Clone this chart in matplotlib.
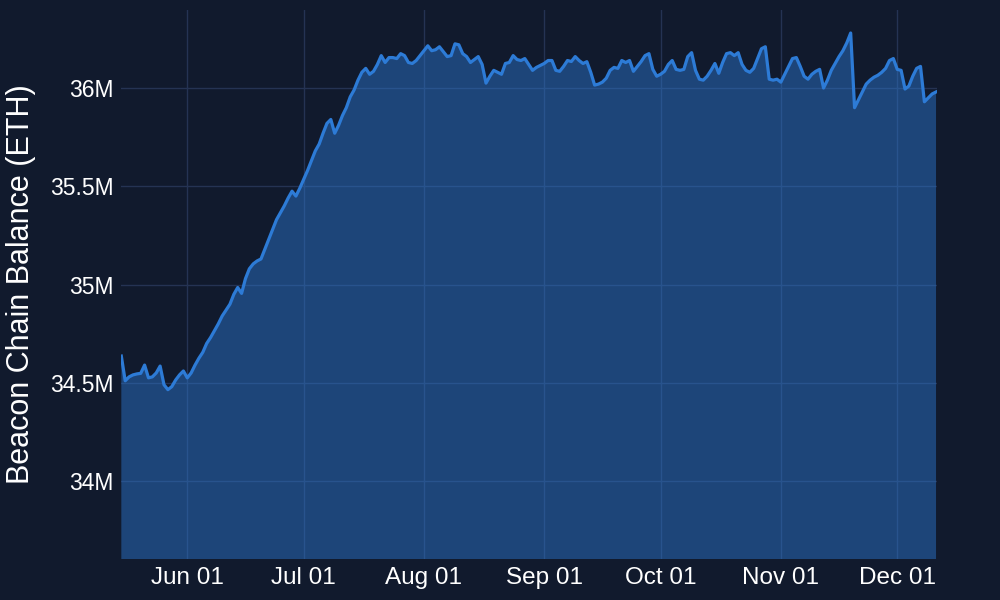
import matplotlib
matplotlib.use("Agg")
import matplotlib.pyplot as plt
import matplotlib.dates as mdates
from matplotlib.ticker import FuncFormatter
import pandas as pd
import numpy as np

start_date = "2025-05-15"
# Beacon chain balance in millions of ETH, one value per day
balance_m = [
    34.636, 34.51, 34.53, 34.54, 34.545, 34.548, 34.59, 34.525, 34.53, 34.55,
    34.585, 34.49, 34.465, 34.48, 34.514, 34.54, 34.56, 34.525, 34.55, 34.59,
    34.625, 34.655, 34.70, 34.73, 34.765, 34.80, 34.84, 34.87, 34.90, 34.95,
    34.985, 34.955, 35.03, 35.08, 35.105, 35.12, 35.13, 35.18, 35.23, 35.28,
    35.33, 35.365, 35.40, 35.44, 35.475, 35.45, 35.49, 35.535, 35.58, 35.63,
    35.68, 35.715, 35.77, 35.82, 35.84, 35.77, 35.81, 35.86, 35.90, 35.955,
    35.99, 36.04, 36.08, 36.10, 36.07, 36.085, 36.12, 36.165, 36.13, 36.155,
    36.155, 36.15, 36.175, 36.165, 36.13, 36.125, 36.14, 36.165, 36.19, 36.215,
    36.19, 36.195, 36.21, 36.185, 36.16, 36.165, 36.225, 36.22, 36.175, 36.16,
    36.13, 36.145, 36.16, 36.12, 36.025, 36.06, 36.09, 36.08, 36.07, 36.125,
    36.13, 36.165, 36.145, 36.14, 36.15, 36.12, 36.09, 36.105, 36.115, 36.125,
    36.14, 36.14, 36.09, 36.085, 36.11, 36.14, 36.135, 36.16, 36.14, 36.125,
    36.134, 36.08, 36.015, 36.02, 36.03, 36.05, 36.09, 36.105, 36.10, 36.14,
    36.13, 36.14, 36.085, 36.11, 36.135, 36.165, 36.175, 36.095, 36.06, 36.07,
    36.085, 36.12, 36.14, 36.095, 36.09, 36.095, 36.16, 36.18, 36.09, 36.045,
    36.04, 36.06, 36.09, 36.125, 36.075, 36.13, 36.175, 36.18, 36.165, 36.18,
    36.12, 36.09, 36.08, 36.10, 36.15, 36.20, 36.21, 36.045, 36.04, 36.045,
    36.03, 36.07, 36.11, 36.15, 36.155, 36.11, 36.06, 36.045, 36.07, 36.085,
    36.095, 36.00, 36.04, 36.09, 36.125, 36.16, 36.19, 36.23, 36.28, 35.90,
    35.94, 35.98, 36.02, 36.04, 36.055, 36.065, 36.08, 36.10, 36.14, 36.15,
    36.095, 36.09, 35.995, 36.01, 36.06, 36.10, 36.11, 35.93, 35.95, 35.97,
    35.98,
]
dates = pd.date_range(start_date, periods=len(balance_m), freq="D")
y_ticks = [34.0, 34.5, 35.0, 35.5, 36.0]
y_label = "Beacon Chain Balance (ETH)"

bg = "#111a2d"
line_c = "#2d7bd6"
grid_c = "#253353"

plt.rcParams["font.family"] = ["Liberation Sans", "DejaVu Sans"]
fig = plt.figure(figsize=(10, 6), dpi=100, facecolor=bg)
ax = fig.add_axes([0.121, 0.0683, 0.816, 0.915])
ax.set_facecolor(bg)

vals = np.array(balance_m)
ax.fill_between(dates, vals, 0, color=line_c, alpha=0.45, linewidth=0, zorder=2)
ax.plot(dates, vals, color=line_c, linewidth=2.3, zorder=3, solid_joinstyle="round")

ax.set_ylim(33.603, 36.397)
ax.set_xlim(dates[0] - pd.Timedelta(hours=2), dates[-1] + pd.Timedelta(hours=6))
ax.set_yticks(y_ticks)
ax.yaxis.set_major_formatter(FuncFormatter(lambda v, p: f"{v:g}M"))
ax.xaxis.set_major_locator(mdates.MonthLocator(bymonthday=1))
ax.xaxis.set_major_formatter(mdates.DateFormatter("%b %d"))

ax.grid(True, color=grid_c, linewidth=1, zorder=1)
ax.set_axisbelow(True)
for s in ax.spines.values():
    s.set_visible(False)
ax.tick_params(axis="y", length=0, colors="white", labelsize=16.5, pad=5.5)
ax.tick_params(axis="x", length=0, colors="white", labelsize=17.5, pad=6)
ax.set_ylabel(y_label, color="white", fontsize=22)
ax.yaxis.set_label_coords(-0.104, 0.5)

fig.savefig("out.png", dpi=100, facecolor=bg)
